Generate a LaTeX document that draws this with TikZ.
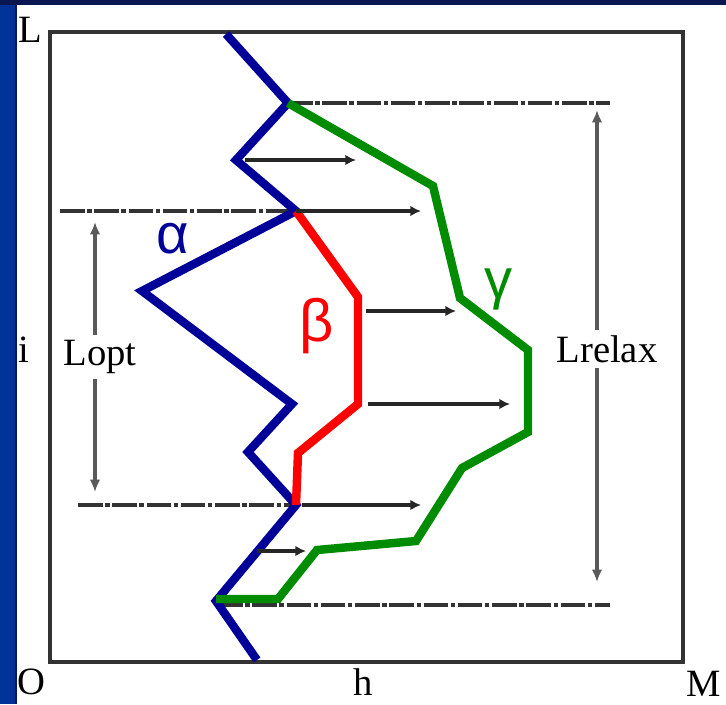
\documentclass[tikz,border=0pt]{standalone}
\usepackage{fontspec}
\setmainfont{Liberation Serif}
\newfontfamily\greekfont{Liberation Sans}
\usetikzlibrary{arrows.meta}
\definecolor{bandblue}{HTML}{003399}
\definecolor{bandnavy}{HTML}{0A1650}
\definecolor{frame}{HTML}{333333}
\definecolor{guide}{HTML}{5A5A5A}
\definecolor{alphablue}{HTML}{000099}
\definecolor{betared}{HTML}{FF0000}
\definecolor{gammagreen}{HTML}{008C00}

\begin{document}
\begin{tikzpicture}[
  x=0.02cm,
  y=-0.02cm,
  axislabel/.style={font=\fontsize{22}{24}\selectfont, inner sep=0pt},
  spanlabel/.style={font=\fontsize{22}{24}\selectfont, inner sep=3pt},
  greek/.style={font=\greekfont\fontsize{32}{36}\selectfont, inner sep=0pt},
  run/.style={line width=4.8pt, line join=miter},
  level/.style={draw=frame, line width=2pt, dash pattern=on 14pt off 1.5pt on 2.5pt off 1.5pt},
  shiftarrow/.style={draw=black!85, line width=2pt, -{Latex[length=6pt,width=6pt]}},
  spanarrow/.style={draw=guide, line width=2.5pt, -{Latex[length=7pt,width=6pt]}}
]
\useasboundingbox (0,0) rectangle (726,704);
\fill[white] (0,0) rectangle (726,704);

% Frame
\draw[frame, line width=2.6pt] (50,32) rectangle (683,662);

% Path points
\coordinate (a1) at (226,34);
\coordinate (a2) at (288,103);
\coordinate (a3) at (236,160);
\coordinate (a4) at (296,211);
\coordinate (a5) at (142,291);
\coordinate (a6) at (292,404);
\coordinate (a7) at (248,452);
\coordinate (a8) at (296,505);
\coordinate (a9) at (216,601);
\coordinate (a10) at (257,660);
\coordinate (b2) at (358,297);
\coordinate (b3) at (358,404);
\coordinate (b4) at (298,453);
\coordinate (g2) at (433,186);
\coordinate (g3) at (460,298);
\coordinate (g4) at (528,350);
\coordinate (g5) at (528,432);
\coordinate (g6) at (462,468);
\coordinate (g7) at (416,541);
\coordinate (g8) at (317,550);
\coordinate (g9) at (278,599);
\coordinate (g10) at (216,599);

% Level lines
\coordinate (topend) at (610,103);
\coordinate (optleft) at (60,211);
\coordinate (optright) at (78,505);
\coordinate (lowstart) at (218,605);
\coordinate (lowend) at (610,605);
\draw[level] (a2) -- (topend);
\draw[level] (optleft) -- (a4);
\draw[level] (optright) -- (a8);
\draw[level] (lowstart) -- (lowend);

% Curves
\draw[run, alphablue] (a1) -- (a2) -- (a3) -- (a4) -- (a5) -- (a6) -- (a7) -- (a8) -- (a9) -- (a10);
\draw[run, betared] (a4) -- (b2) -- (b3) -- (b4) -- (a8);
\draw[run, gammagreen] (a2) -- (g2) -- (g3) -- (g4) -- (g5) -- (g6) -- (g7) -- (g8) -- (g9) -- (g10);

% Shift arrows
\coordinate (s1a) at (245,160);
\coordinate (s1b) at (356,160);
\coordinate (s2b) at (421,211);
\coordinate (s3a) at (366,311);
\coordinate (s3b) at (456,311);
\coordinate (s4a) at (368,404);
\coordinate (s4b) at (510,404);
\coordinate (s5a) at (302,505);
\coordinate (s5b) at (421,505);
\coordinate (s6a) at (257,551);
\coordinate (s6b) at (306,551);
\draw[shiftarrow] (s1a) -- (s1b);
\draw[shiftarrow] (a4) -- (s2b);
\draw[shiftarrow] (s3a) -- (s3b);
\draw[shiftarrow] (s4a) -- (s4b);
\draw[shiftarrow] (s5a) -- (s5b);
\draw[shiftarrow] (s6a) -- (s6b);

% Span labels
\node[spanlabel] (lopt) at (100,357) {Lopt};
\node[spanlabel] (lrelax) at (607,349) {Lrelax};
\coordinate (opttop) at (95,222);
\coordinate (optbottom) at (95,492);
\coordinate (relaxtop) at (597,110);
\coordinate (relaxbottom) at (597,582);
\draw[spanarrow] (opttop |- lopt.north) -- (opttop);
\draw[spanarrow] (optbottom |- lopt.south) -- (optbottom);
\draw[spanarrow] (relaxtop |- lrelax.north) -- (relaxtop);
\draw[spanarrow] (relaxbottom |- lrelax.south) -- (relaxbottom);

% Curve names
\node[greek, alphablue] (alphaname) at (173,239) {α};
\node[greek, betared, font=\greekfont\fontsize{34}{38}\selectfont] (betaname) at (317,326) {β};
\node[greek, gammagreen] (gammaname) at (499,289) {γ};

% Axis labels
\node[axislabel] (lname) at (30,30) {L};
\node[axislabel] (iname) at (24,350) {i};
\node[axislabel] (oname) at (31,682) {O};
\node[axislabel] (hname) at (363,682) {h};
\node[axislabel] (mname) at (704,684) {M};

% Screen edges
\fill[bandblue] (0,0) rectangle (15,704);
\fill[bandnavy] (15,0) rectangle (17,704);
\fill[bandnavy] (0,0) rectangle (726,5);
\end{tikzpicture}
\end{document}
